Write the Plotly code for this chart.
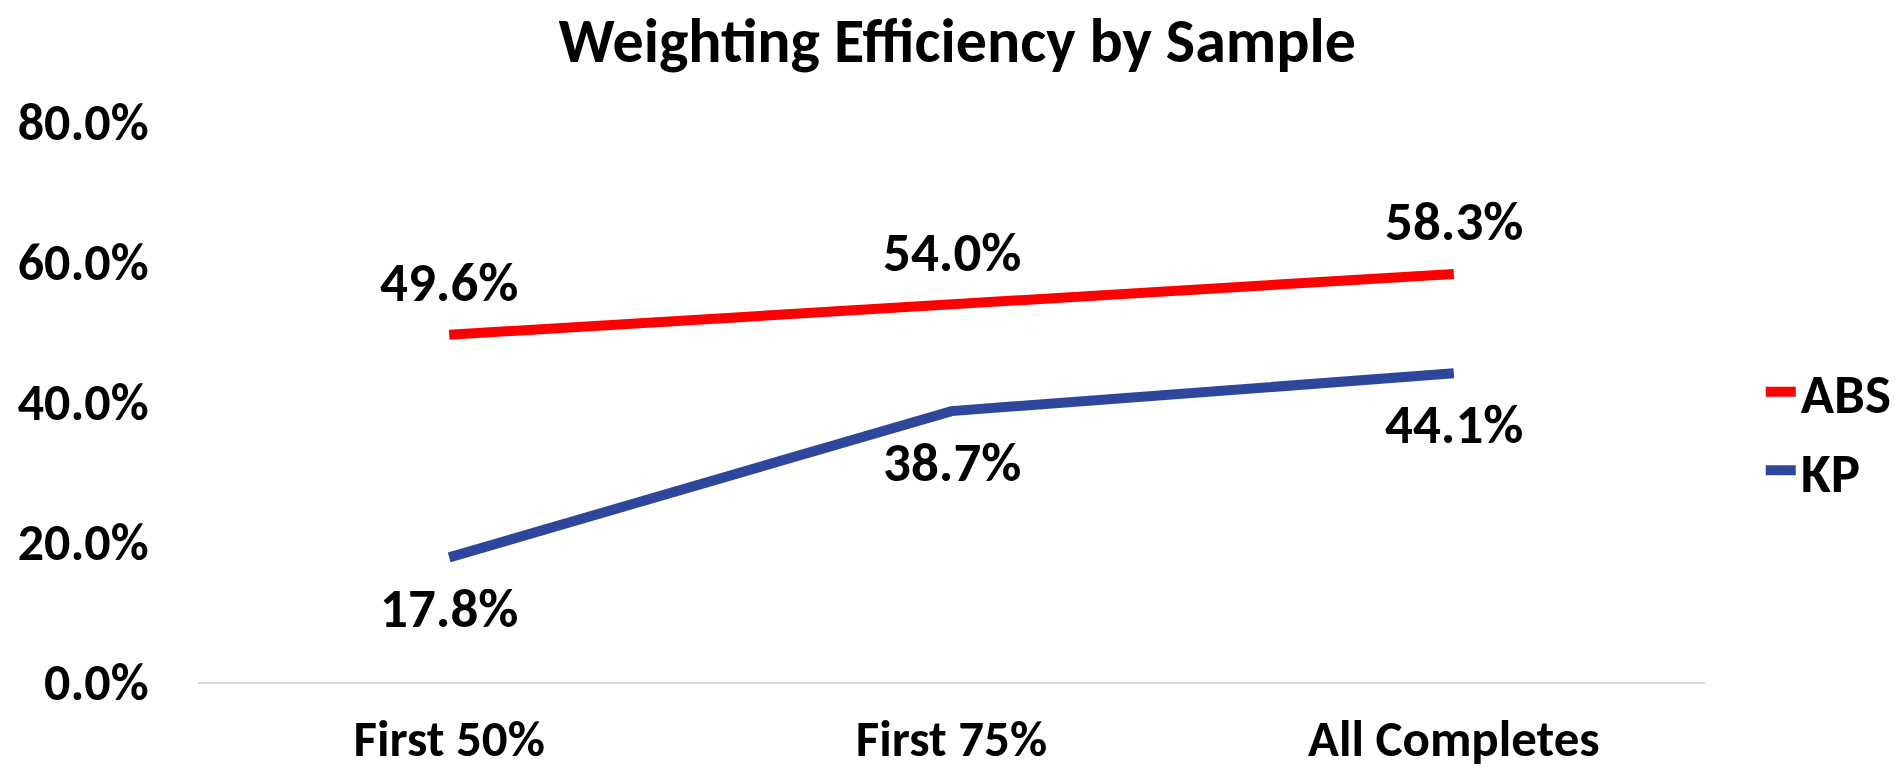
import plotly.graph_objects as go

categories = ["First 50%", "First 75%", "All Completes"]
abs_values = [0.496, 0.540, 0.583]
kp_values = [0.178, 0.387, 0.441]
y_ticks = [0.0, 0.2, 0.4, 0.6, 0.8]

FONT = "Calibri, Carlito, Lato, sans-serif"
RED = "#FF0000"
BLUE = "#2E479C"
FS = 52

fig = go.Figure()
fig.add_trace(go.Scatter(x=categories, y=abs_values, mode="lines", name="ABS",
                         line=dict(color=RED, width=10), legendgroup="a"))
fig.add_trace(go.Scatter(x=categories, y=kp_values, mode="lines", name="KP",
                         line=dict(color=BLUE, width=10), legendgroup="b"))

for c, v in zip(categories, abs_values):
    fig.add_annotation(x=c, y=v, text=f"{v*100:.1f}%", showarrow=False, yshift=52,
                       font=dict(family=FONT, size=55, color="black", weight="bold"))
for c, v in zip(categories, kp_values):
    fig.add_annotation(x=c, y=v, text=f"{v*100:.1f}%", showarrow=False, yshift=-51,
                       font=dict(family=FONT, size=55, color="black", weight="bold"))

fig.update_layout(
    width=1903, height=774,
    margin=dict(l=198, r=198, t=122, b=92, autoexpand=False),
    paper_bgcolor="white", plot_bgcolor="white",
    title=dict(text="Weighting Efficiency by Sample", x=0.503, xanchor="center",
               y=1 - 40 / 774, yref="container", yanchor="middle",
               font=dict(family=FONT, size=62, color="black", weight="bold")),
    font=dict(family=FONT, color="black"),
    legend=dict(x=1.037, xanchor="left", y=0.448, yanchor="middle",
                traceorder="grouped", tracegroupgap=4,
                font=dict(family=FONT, size=55, color="black", weight="bold"),
                bgcolor="rgba(0,0,0,0)"),
    showlegend=True,
)
fig.update_xaxes(range=[-0.5, 2.5], showgrid=False, showline=True, linecolor="#D9D9D9",
                 linewidth=2, ticks="outside", ticklen=11, tickcolor="rgba(0,0,0,0)",
                 tickfont=dict(family=FONT, size=51, color="black", weight="bold"),
                 zeroline=False, automargin=False)
fig.update_yaxes(range=[0, 0.8], tickvals=y_ticks, tickformat=".1%", showgrid=False,
                 showline=False, zeroline=False, ticks="outside", ticklen=38,
                 tickcolor="rgba(0,0,0,0)", automargin=False,
                 tickfont=dict(family=FONT, size=FS, color="black", weight="bold"))

fig.write_html("out.html", config={"displayModeBar": False},
               post_script="document.body.style.margin='0';document.body.style.overflow='hidden';")
